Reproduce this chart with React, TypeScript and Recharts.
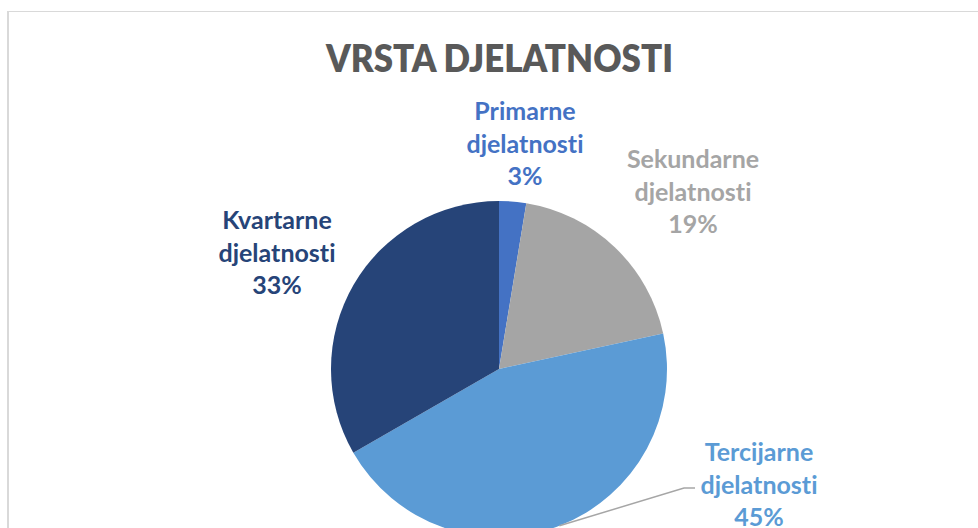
import { PieChart, Pie, Cell } from "recharts";

const categories = [
  "Primarne djelatnosti",
  "Sekundarne djelatnosti",
  "Tercijarne djelatnosti",
  "Kvartarne djelatnosti",
];
const shares = [2.6, 19.0, 45.1, 33.3];
const colors = ["#4472C4", "#A5A5A5", "#5B9BD5", "#264478"];

const data = categories.map((name, i) => ({ name, value: shares[i] }));

// label anchor (first baseline) relative to the pie centre
const LABEL_OFFSETS = [
  [26, -249],
  [194, -201],
  [260, 92],
  [-222, -140],
];
const LINE_HEIGHT = 32.7;
const FONT = "Lato, 'Open Sans', sans-serif";

const renderLabel = (props: any) => {
  const { cx, cy, index, percent } = props;
  const [dx, dy] = LABEL_OFFSETS[index];
  const words = categories[index].split(" ");
  const lines = [...words, `${Math.round(percent * 100)}%`];
  return (
    <text
      textAnchor="middle"
      fill={colors[index]}
      fontFamily={FONT}
      fontWeight={700}
      fontSize={25}
      style={{ fontVariantLigatures: "none" }}
    >
      {lines.map((l, i) => (
        <tspan key={i} x={cx + dx} y={cy + dy + i * LINE_HEIGHT}>
          {l}
        </tspan>
      ))}
    </text>
  );
};

// only the Tercijarne label sits away from its slice and gets a leader line
const renderLabelLine = (props: any) => {
  const { cx, cy, midAngle, outerRadius, index } = props;
  if (index !== 2) return <g />;
  const rad = Math.PI / 180;
  const sx = cx + Math.cos(-midAngle * rad) * outerRadius;
  const sy = cy + Math.sin(-midAngle * rad) * outerRadius;
  const ex = cx + 185;
  const ey = cy + 119;
  return (
    <path
      d={`M${sx},${sy}L${ex},${ey}L${ex + 11},${ey}`}
      stroke="#A6A6A6"
      strokeWidth={1.5}
      fill="none"
    />
  );
};

export default function App() {
  return (
    <div
      style={{
        position: "fixed",
        left: 0,
        top: 0,
        width: 978,
        height: 528,
        overflow: "hidden",
        background: "#fff",
      }}
    >
      <div
        style={{
          position: "absolute",
          left: 7,
          top: 11,
          width: 1000,
          height: 600,
          borderLeft: "2px solid #D9D9D9",
          borderTop: "1px solid #D9D9D9",
        }}
      />
      <svg
        width={978}
        height={100}
        style={{ position: "absolute", left: 0, top: 0 }}
      >
        <text
          x={499.5}
          y={72}
          textAnchor="middle"
          fill="#595959"
          fontFamily={FONT}
          fontWeight={800}
          fontSize={38}
          textLength={347}
          lengthAdjust="spacingAndGlyphs"
        >
          VRSTA DJELATNOSTI
        </text>
      </svg>
      <div style={{ position: "absolute", left: 0, top: 0 }}>
        <PieChart width={978} height={528}>
          <Pie
            data={data}
            dataKey="value"
            nameKey="name"
            cx={494}
            cy={364}
            outerRadius={168}
            startAngle={90}
            endAngle={-270}
            stroke="none"
            label={renderLabel}
            labelLine={renderLabelLine}
            isAnimationActive={false}
          >
            {data.map((d, i) => (
              <Cell key={d.name} fill={colors[i]} />
            ))}
          </Pie>
        </PieChart>
      </div>
    </div>
  );
}
